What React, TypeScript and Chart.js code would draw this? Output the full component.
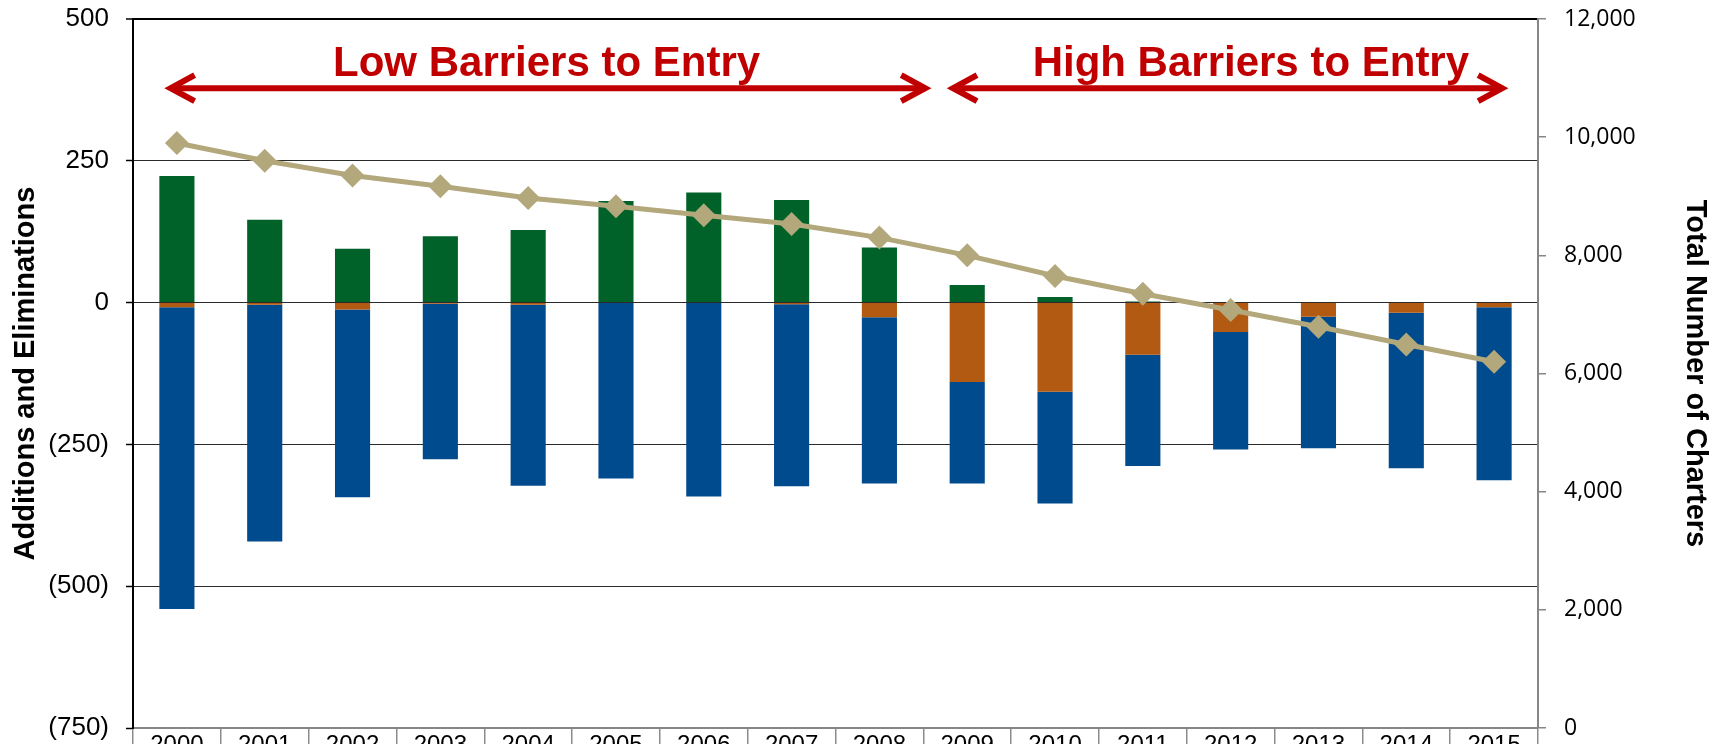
import React, { useEffect, useRef } from 'react';
import { Chart, registerables } from 'chart.js';

Chart.register(...registerables);

const years = ['2000', '2001', '2002', '2003', '2004', '2005', '2006', '2007', '2008', '2009', '2010', '2011', '2012', '2013', '2014', '2015'];
const additions = [223, 146, 95, 117, 128, 179, 194, 181, 97, 31, 10, 2, 0, 1, 0, 1];
const mergersOrange = [-8, -4, -12, -2, -4, 0, 0, -3, -26, -140, -157, -92, -52, -25, -18, -8];
const failuresBlue = [-532, -417, -331, -274, -319, -310, -342, -321, -293, -179, -197, -196, -207, -232, -274, -305];
const totalCharters = [9900, 9600, 9350, 9170, 8970, 8830, 8680, 8530, 8300, 8000, 7650, 7350, 7075, 6790, 6490, 6200];

const periodLabels = ['Low Barriers to Entry', 'High Barriers to Entry'];
const periodStart = [-0.14, 8.77];
const periodEnd = [8.59, 15.16];
const periodCenter = [4.21, 12.23];
const arrowLevel = 378;
const labelLevel = 400;

const GREEN = '#006229';
const ORANGE = '#B25A11';
const BLUE = '#004B8D';
const TAN = '#B3A87B';
const RED = '#C00000';
const ARIAL = '"Liberation Sans", Arial, sans-serif';
const CALIBRI_LIKE = '"Open Sans", Lato, sans-serif';

const arrowPlugin = {
  id: 'barrierArrows',
  afterDraw(chart: any) {
    const { ctx, scales } = chart;
    const x = scales.x;
    const y = scales.y;
    ctx.save();
    ctx.strokeStyle = RED;
    ctx.fillStyle = RED;
    ctx.lineWidth = 6;
    ctx.lineJoin = 'miter';
    ctx.lineCap = 'butt';
    const ay = y.getPixelForValue(arrowLevel);
    for (let i = 0; i < periodStart.length; i++) {
      const x0 = x.getPixelForValue(periodStart[i]) + 6;
      const x1 = x.getPixelForValue(periodEnd[i]) - 6;
      ctx.beginPath();
      ctx.moveTo(x0 + 2, ay);
      ctx.lineTo(x1 - 2, ay);
      ctx.stroke();
      ctx.beginPath();
      ctx.moveTo(x0 + 24, ay - 13);
      ctx.lineTo(x0, ay);
      ctx.lineTo(x0 + 24, ay + 13);
      ctx.stroke();
      ctx.beginPath();
      ctx.moveTo(x1 - 24, ay - 13);
      ctx.lineTo(x1, ay);
      ctx.lineTo(x1 - 24, ay + 13);
      ctx.stroke();
    }
    ctx.font = 'bold 42px ' + ARIAL;
    ctx.textAlign = 'center';
    ctx.textBaseline = 'alphabetic';
    const ty = y.getPixelForValue(labelLevel);
    for (let i = 0; i < periodLabels.length; i++) {
      ctx.fillText(periodLabels[i], x.getPixelForValue(periodCenter[i]), ty);
    }
    ctx.restore();
  },
};

const noPad = (s: any) => {
  s.paddingTop = 0;
  s.paddingBottom = 0;
  s.paddingLeft = 0;
  s.paddingRight = 0;
};

export default function App() {
  const ref = useRef<HTMLCanvasElement>(null);
  useEffect(() => {
    if (!ref.current) return;
    Chart.defaults.font.family = ARIAL;
    Chart.defaults.color = '#000';
    const chart = new Chart(ref.current, {
      type: 'bar',
      data: {
        labels: years,
        datasets: [
          {
            type: 'line',
            label: 'Total Number of Charters',
            data: totalCharters,
            yAxisID: 'y1',
            borderColor: TAN,
            backgroundColor: TAN,
            borderWidth: 5,
            pointStyle: 'rectRot',
            pointRadius: 12,
            pointBackgroundColor: TAN,
            pointBorderColor: TAN,
            pointBorderWidth: 0,
            tension: 0,
            order: 0,
          } as any,
          {
            label: 'Additions',
            data: additions,
            backgroundColor: GREEN,
            stack: 's',
            yAxisID: 'y',
            order: 1,
            barPercentage: 1,
            categoryPercentage: 0.4,
          },
          {
            label: 'Mergers',
            data: mergersOrange,
            backgroundColor: ORANGE,
            stack: 's',
            yAxisID: 'y',
            order: 1,
            barPercentage: 1,
            categoryPercentage: 0.4,
          },
          {
            label: 'Failures',
            data: failuresBlue,
            backgroundColor: BLUE,
            stack: 's',
            yAxisID: 'y',
            order: 1,
            barPercentage: 1,
            categoryPercentage: 0.4,
          },
        ],
      },
      options: {
        animation: false,
        responsive: false,
        layout: { padding: { top: 19, left: 0, right: 0, bottom: 0 } },
        plugins: {
          legend: { display: false },
          tooltip: { enabled: false },
        },
        scales: {
          x: {
            stacked: true,
            offset: true,
            grid: {
              offset: true,
              drawOnChartArea: false,
              drawTicks: true,
              tickLength: 16,
              color: '#8c8c8c',
              lineWidth: 1.5,
            },
            border: { color: '#868686', width: 2 },
            ticks: {
              font: { size: 24, family: ARIAL },
              color: '#000',
              padding: -13,
              maxRotation: 0,
              autoSkip: false,
            },
            afterFit: (s: any) => {
              s.height = 16;
              noPad(s);
            },
          },
          y: {
            stacked: true,
            position: 'left',
            min: -750,
            max: 500,
            ticks: {
              stepSize: 250,
              font: { size: 26, family: ARIAL },
              color: '#000',
              padding: 17,
              callback: (v: any) => (Number(v) < 0 ? '(' + -Number(v) + ')' : String(v)),
            },
            grid: {
              color: (c: any) => {
                const v = c.tick ? c.tick.value : 0;
                if (v === -750) return 'rgba(0,0,0,0)';
                if (v === 500) return '#000';
                return '#2a2a2a';
              },
              lineWidth: (c: any) => (c.tick && c.tick.value === 500 ? 2 : 1),
              tickColor: '#000',
              tickWidth: 1.5,
              tickLength: 7,
            },
            border: { color: '#000', width: 2 },
            title: {
              display: true,
              text: 'Additions and Eliminations',
              font: { size: 29, weight: 'bold', family: ARIAL },
              color: '#000',
              padding: { top: 8.5, bottom: 0 },
            },
            afterFit: (s: any) => {
              s.width = 133;
              noPad(s);
            },
          },
          y1: {
            position: 'right',
            min: 0,
            max: 12000,
            ticks: {
              stepSize: 2000,
              font: { size: 23, family: CALIBRI_LIKE },
              color: '#000',
              padding: 18,
              callback: (v: any) => Number(v).toLocaleString('en-US'),
            },
            grid: {
              drawOnChartArea: false,
              color: '#868686',
              lineWidth: 1.5,
              tickLength: 8,
            },
            border: { color: '#868686', width: 2 },
            title: {
              display: true,
              text: 'Total Number of Charters',
              font: { size: 29, weight: 'bold', family: ARIAL },
              color: '#000',
              padding: { top: 11.6, bottom: 0 },
            },
            afterFit: (s: any) => {
              s.width = 186;
              noPad(s);
            },
          },
        },
      } as any,
      plugins: [arrowPlugin],
    });
    return () => chart.destroy();
  }, []);
  return (
    <div style={{ position: 'absolute', left: 0, top: 0, width: 1724, height: 744, background: '#fff' }}>
      <canvas ref={ref} width={1724} height={744} style={{ display: 'block', width: 1724, height: 744 }} />
    </div>
  );
}
